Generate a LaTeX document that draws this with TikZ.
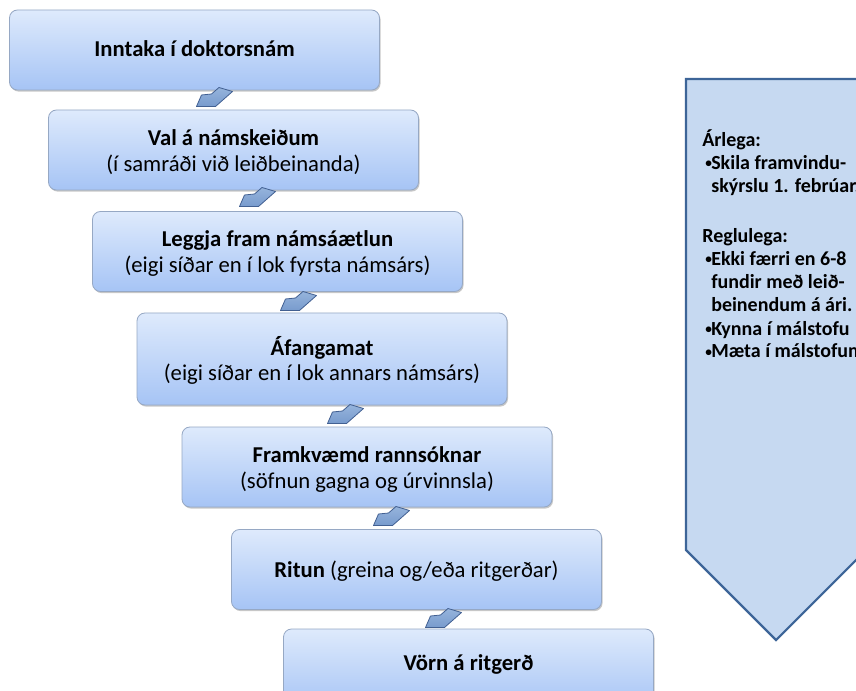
\documentclass[tikz,border=0pt]{standalone}
\usepackage{fontspec}
\setmainfont{Carlito}
\usetikzlibrary{shadows}
\definecolor{boxtop}{RGB}{222,234,252}
\definecolor{boxbot}{RGB}{166,196,245}
\definecolor{boxline}{RGB}{150,168,196}
\definecolor{arrtop}{RGB}{150,180,220}
\definecolor{arrbot}{RGB}{120,155,205}
\definecolor{arrline}{RGB}{66,96,146}
\definecolor{pentfill}{RGB}{198,217,241}
\definecolor{pentline}{RGB}{61,101,152}
\newcommand\pbul{\makebox[4.5pt][l]{\raisebox{0.1em}{\fontsize{10}{10}\selectfont •}}}
\begin{document}
\begin{tikzpicture}[x=0.75pt,y=-0.75pt,
  stepbox/.style={draw=boxline, line width=0.6pt, rounded corners=6pt,
    top color=boxtop, bottom color=boxbot,
    minimum width=277.5pt, minimum height=60pt, inner sep=0pt,
    drop shadow={shadow xshift=0.8pt, shadow yshift=-1.2pt, opacity=0.22, fill=black}},
  steptext/.style={anchor=base, inner sep=0pt, font=\fontsize{17}{19.5}\selectfont},
  ptext/.style={anchor=base west, inner sep=0pt, font=\fontsize{15}{17}\selectfont\bfseries},
  steparrow/.pic={\draw[draw=arrline, top color=arrtop, bottom color=arrbot, line width=0.6pt, line join=round]
    (-17.5,9.5) -- (-12.5,-2) -- (-2.5,-3) -- (5,-9.5) -- (18.5,-5.5) -- (1.5,9.5) -- cycle;}
]
\useasboundingbox (0,0) rectangle (856,691);
\clip (0,0) rectangle (856,691);
\fill[white] (0,0) rectangle (856,691);

% side arrow
\draw[draw=pentline, fill=pentfill, line width=1.6pt, line join=miter]
  (686,79) -- (866,79) -- (866,550) -- (776,640) -- (686,550) -- cycle;
\node[ptext] (a1) at (702,147) {Árlega:};
\node[ptext] (a2) at (705,170) {\pbul Skila framvindu-};
\node[ptext] (a3) at (711,193) {skýrslu 1. febrúar.};
\node[ptext] (r1) at (702,243) {Reglulega:};
\node[ptext] (r2) at (705,266) {\pbul Ekki færri en 6-8};
\node[ptext] (r3) at (711,289) {fundir með leið-};
\node[ptext] (r4) at (711,312) {beinendum á ári.};
\node[ptext] (r5) at (705,335) {\pbul Kynna í málstofu};
\node[ptext] (r6) at (705,358) {\pbul Mæta í málstofum};

% step boxes
\node[stepbox] (b1) at (194.5,50) {};
\node[stepbox] (b2) at (233.5,150) {};
\node[stepbox] (b3) at (277.5,251.5) {};
\node[stepbox, minimum height=69pt] (b4) at (322,359) {};
\node[stepbox] (b5) at (367,467) {};
\node[stepbox] (b6) at (416.5,569.5) {};
\node[stepbox] (b7) at (468.5,669) {};

\node[steptext] (t1) at (194.5,57) {\textbf{Inntaka í doktorsnám}};
\node[steptext] (t2a) at (233.5,145.5) {\textbf{Val á námskeiðum}};
\node[steptext] (t2b) at (233.5,171.5) {(í samráði við leiðbeinanda)};
\node[steptext] (t3a) at (277.5,247) {\textbf{Leggja fram námsáætlun}};
\node[steptext] (t3b) at (277.5,273) {(eigi síðar en í lok fyrsta námsárs)};
\node[steptext] (t4a) at (322,355) {\textbf{Áfangamat}};
\node[steptext] (t4b) at (322,380) {(eigi síðar en í lok annars námsárs)};
\node[steptext] (t5a) at (367,462.5) {\textbf{Framkvæmd rannsóknar}};
\node[steptext] (t5b) at (367,488.5) {(söfnun gagna og úrvinnsla)};
\node[steptext] (t6) at (416.5,577) {\textbf{Ritun} (greina og/eða ritgerðar)};
\node[steptext] (t7) at (468.5,670) {\textbf{Vörn á ritgerð}};

% step arrows
\pic at (214,97) {steparrow};
\pic at (257,197) {steparrow};
\pic at (298,301) {steparrow};
\pic at (345,414) {steparrow};
\pic at (391,516) {steparrow};
\pic at (443,618) {steparrow};
\end{tikzpicture}
\end{document}
